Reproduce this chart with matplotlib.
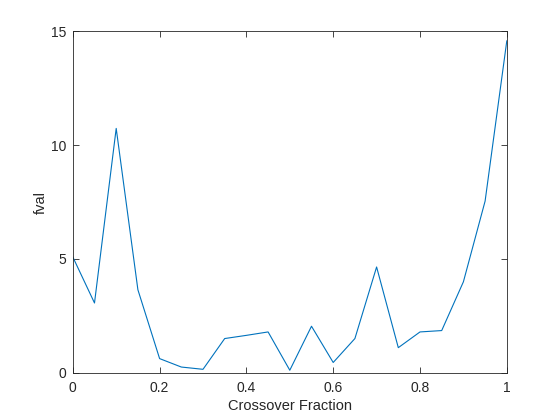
import matplotlib
matplotlib.use("Agg")
import matplotlib.pyplot as plt

crossover_fraction = [0.0, 0.05, 0.1, 0.15, 0.2, 0.25, 0.3, 0.35, 0.4, 0.45, 0.5,
                      0.55, 0.6, 0.65, 0.7, 0.75, 0.8, 0.85, 0.9, 0.95, 1.0]
fval = [5.09, 3.07, 10.73, 3.65, 0.63, 0.26, 0.16, 1.51, 1.65, 1.80, 0.12,
        2.05, 0.46, 1.51, 4.65, 1.11, 1.80, 1.86, 4.0, 7.54, 14.57]
x_ticks = [0, 0.2, 0.4, 0.6, 0.8, 1]
x_tick_labels = ["0", "0.2", "0.4", "0.6", "0.8", "1"]
y_ticks = [0, 5, 10, 15]
y_tick_labels = ["0", "5", "10", "15"]

plt.rcParams['font.family'] = ['Liberation Sans', 'DejaVu Sans']
axc = (0.15, 0.15, 0.15)

fig = plt.figure(figsize=(5.6, 4.2), dpi=100)
ax = fig.add_axes([0.13, 0.112, 0.775, 0.814])
ax.plot(crossover_fraction, fval, color=(0, 0.447, 0.741), linewidth=0.8)
ax.set_xlim(0, 1)
ax.set_ylim(0, 15)
ax.set_xticks(x_ticks)
ax.set_xticklabels(x_tick_labels)
ax.set_yticks(y_ticks)
ax.set_yticklabels(y_tick_labels)
ax.tick_params(direction='in', top=True, right=True, length=4, width=0.6,
               colors=axc, labelsize=10)
ax.tick_params(axis='x', pad=5.5)
ax.tick_params(axis='y', pad=4.5)
for s in ax.spines.values():
    s.set_color(axc)
    s.set_linewidth(0.6)
ax.set_xlabel("Crossover Fraction", fontsize=10.5, color=axc, labelpad=3)
ax.set_ylabel("fval", fontsize=10.5, color=axc, labelpad=2.5)

fig.savefig("out.png", dpi=100)
